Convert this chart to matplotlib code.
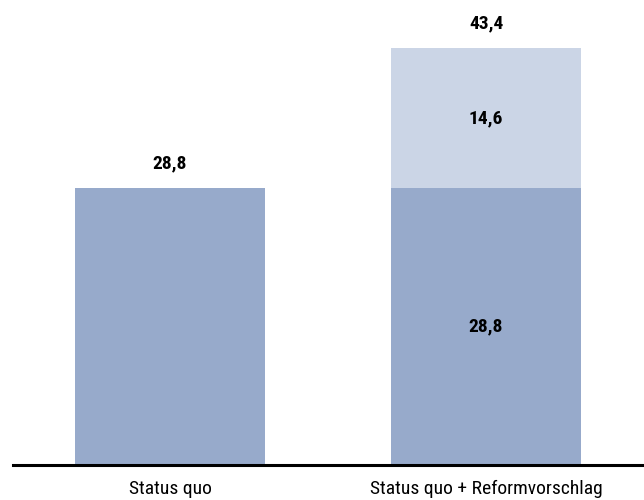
import matplotlib
matplotlib.use("Agg")
import matplotlib.pyplot as plt

categories = ["Status quo", "Status quo + Reformvorschlag"]
base_vals = [28.8, 28.8]
reform_vals = [0.0, 14.6]

DARK = "#97aacb"
LIGHT = "#cbd5e6"
FONT = ["Roboto Condensed", "DejaVu Sans Condensed", "Liberation Sans Narrow", "DejaVu Sans"]


def fmt(v):
    return f"{v:.1f}".replace(".", ",")


fig = plt.figure(figsize=(6.44, 5.0), dpi=100, facecolor="white")
ax = fig.add_axes([13 / 644, 35 / 500, 631 / 644, 465 / 500])

x = list(range(len(categories)))
ax.bar(x, base_vals, width=0.6, color=DARK, zorder=2)
ax.bar(x, reform_vals, width=0.6, bottom=base_vals, color=LIGHT, zorder=2)

ax.set_xlim(-0.497, 1.5)
ax.set_ylim(0, 48.4)

for i, (b, r) in enumerate(zip(base_vals, reform_vals)):
    total = b + r
    ax.annotate(fmt(total), (i, total), textcoords="offset points", xytext=(0, 18),
                ha="center", va="center", fontsize=14, fontweight="bold",
                family=FONT, stretch="condensed", color="black")
    if r > 0:
        ax.text(i, b / 2, fmt(b), ha="center", va="center", fontsize=14,
                fontweight="bold", family=FONT, stretch="condensed", color="black")
        ax.text(i, b + r / 2, fmt(r), ha="center", va="center", fontsize=14,
                fontweight="bold", family=FONT, stretch="condensed", color="black")

ax.set_xticks(x)
ax.set_xticklabels(categories, family=FONT, stretch="condensed", fontsize=14)
ax.tick_params(axis="x", length=0, pad=11)
ax.set_yticks([])
for s in ["top", "right", "left"]:
    ax.spines[s].set_visible(False)
ax.spines["bottom"].set_linewidth(2.2)
ax.spines["bottom"].set_color("black")

fig.savefig("out.png", dpi=100, facecolor="white")
